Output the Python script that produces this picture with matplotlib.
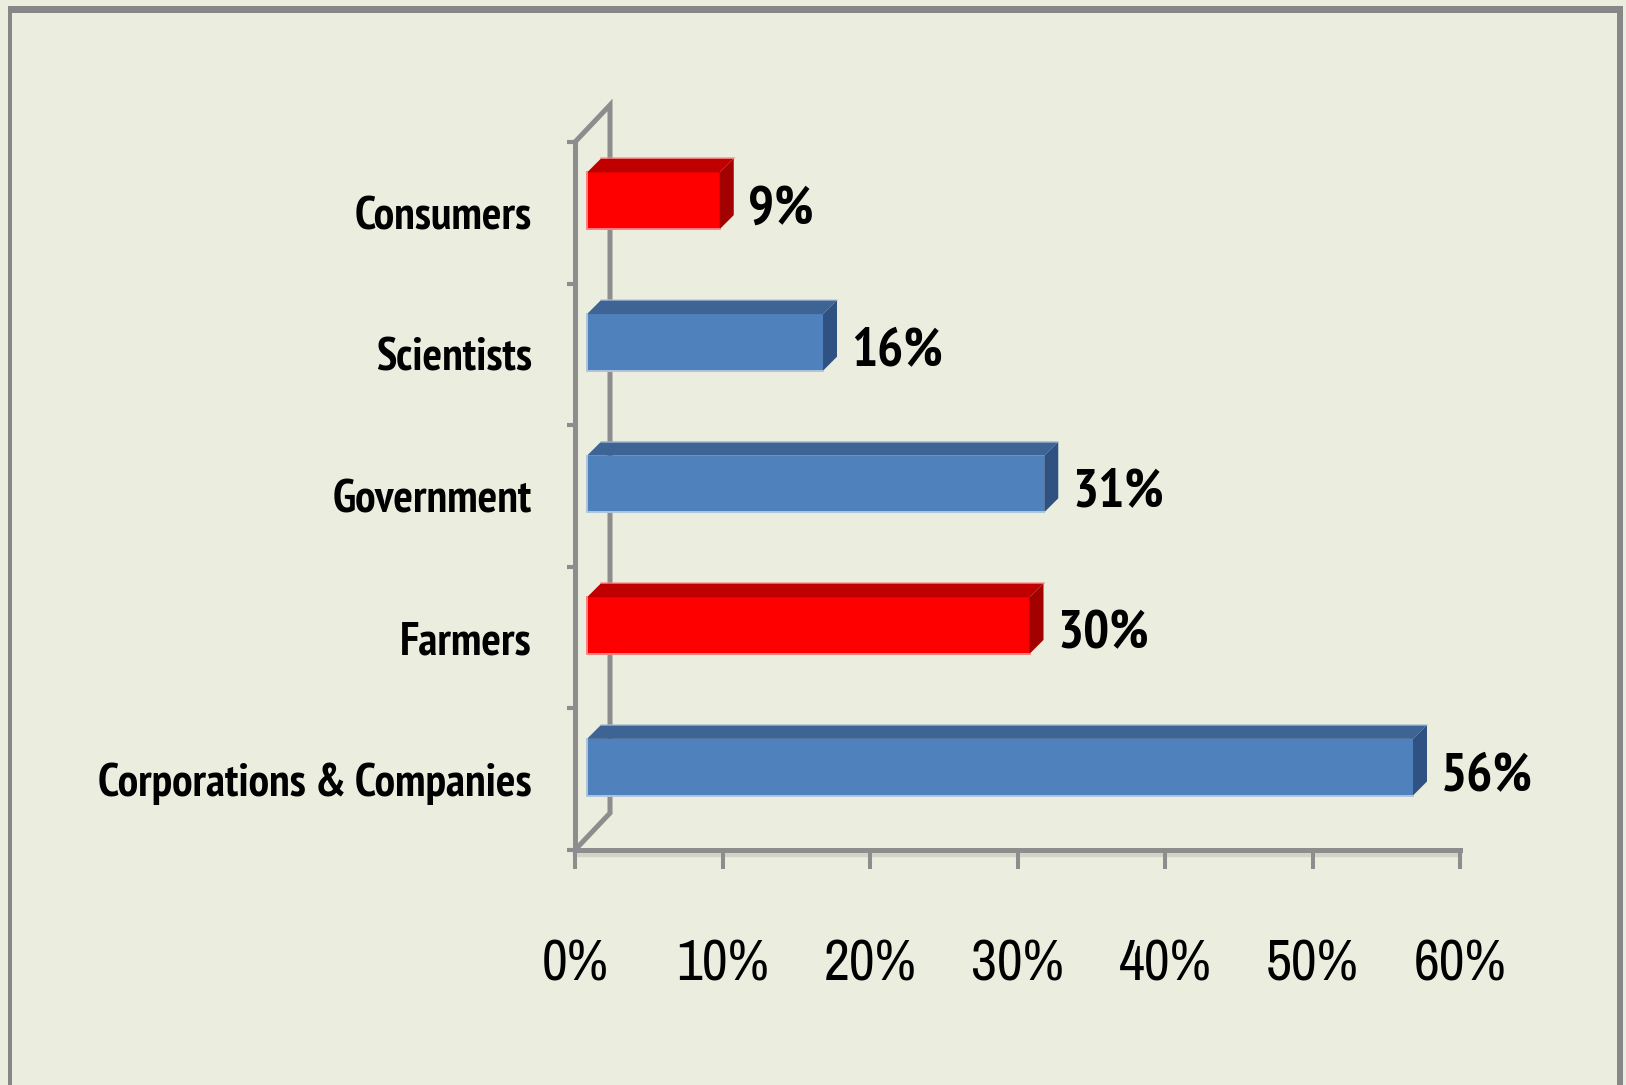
import os
import matplotlib
matplotlib.use("Agg")
import matplotlib.pyplot as plt
from matplotlib import font_manager
from matplotlib.font_manager import FontProperties
from matplotlib.patches import Polygon, Rectangle
from matplotlib.ticker import FixedLocator

# --- data -------------------------------------------------------------
categories = ["Corporations & Companies", "Farmers", "Government", "Scientists", "Consumers"]
values = [56, 30, 31, 16, 9]
highlight = [False, True, False, False, True]
x_ticks = [0, 10, 20, 30, 40, 50, 60]
x_tick_labels = [f"{t}%" for t in x_ticks]

# --- style ------------------------------------------------------------
BG = "#EBEEDF"
FRAME = "#878787"
AXIS = "#8D8D8D"
BLUE = ("#4F81BD", "#3D6495", "#2F5283")   # front, top, side
RED = ("#FF0000", "#C00000", "#A30000")
BLUE_EDGE = "#AFC3DB"
RED_EDGE = "#FF8080"

W, H, DPI = 1626, 1085, 100


def pick_font(bold):
    """Prefer a narrow sans face; fall back to Liberation Sans."""
    want = 700 if bold else 400
    for key in ("narrow", "condensed"):
        for f in font_manager.fontManager.ttflist:
            tag = (f.name + " " + os.path.basename(f.fname)).lower()
            if key not in tag or "mono" in tag or "serif" in tag.replace("sans", ""):
                continue
            w = f.weight if isinstance(f.weight, int) else (700 if f.weight == "bold" else 400)
            if abs(w - want) < 100 and f.style == "normal":
                return FontProperties(fname=f.fname)
    return FontProperties(family="Liberation Sans", weight="bold" if bold else "normal")


fig = plt.figure(figsize=(W / DPI, H / DPI), dpi=DPI, facecolor=BG)
renderer = fig.canvas.get_renderer()


def fit_size(text, prop, target_w, target_cap):
    """Font size (pt) balancing a target text width and cap height in pixels."""
    p = prop.copy()
    p.set_size(100)
    w, _, _ = renderer.get_text_width_height_descent(text, p, ismath=False)
    size_w = 100 * target_w / w
    size_h = target_cap / (0.72 * DPI / 72)
    return size_w ** 0.6 * size_h ** 0.4


REG = pick_font(False)
BOLD = pick_font(True)

tick_prop = REG.copy()
tick_prop.set_size(fit_size("10%", REG, 87, 45))
cat_prop = BOLD.copy()
cat_prop.set_size(fit_size("Corporations & Companies", BOLD, 444, 32))
val_prop = BOLD.copy()
val_prop.set_size(fit_size("56%", BOLD, 88, 42))

# outer frame (top, left, right)
for (x0, y0, x1, y1) in [(8, 6, 1623, 13), (8, 6, 12, 1085), (1617, 6, 1623, 1085)]:
    fig.patches.append(Rectangle((x0 / W, 1 - y1 / H), (x1 - x0) / W, (y1 - y0) / H,
                                 transform=fig.transFigure, facecolor=FRAME,
                                 edgecolor="none", zorder=0))

ax = fig.add_axes([575 / W, (H - 850) / H, 885 / W, 708 / H])
ax.set_xlim(0, 60)
ax.set_ylim(-0.5, len(categories) - 0.5)
ax.patch.set_visible(False)

# pixel -> data conversion for the pseudo-3D depth
sx = 885 / 60
sy = 708 / len(categories)


def off(dx_px, dy_px):
    return dx_px / sx, dy_px / sy


LW = 3.6  # points

# back wall outline
wx, wy = off(35, 37)
ylo, yhi = -0.5, len(categories) - 0.5
ax.plot([0, wx, wx, 0], [ylo, ylo + wy, yhi + wy, yhi], color=AXIS, lw=LW,
        clip_on=False, zorder=1, solid_joinstyle="miter")

# axis shadow under the category floor
ax.plot([0, 60], [ylo - 5 / sy] * 2, color="#D2D4C8", lw=3.2, clip_on=False, zorder=1)

for side in ("top", "right"):
    ax.spines[side].set_visible(False)
for side in ("left", "bottom"):
    ax.spines[side].set_color(AXIS)
    ax.spines[side].set_linewidth(LW)
    ax.spines[side].set_zorder(2)

ax.xaxis.set_major_locator(FixedLocator(x_ticks))
ax.set_xticklabels(x_tick_labels, fontproperties=tick_prop)
ax.tick_params(axis="x", direction="out", length=14, width=2.9, color=AXIS, pad=50)

ax.set_yticks(range(len(categories)))
ax.set_yticklabels(categories, fontproperties=cat_prop)
ax.yaxis.set_minor_locator(FixedLocator([k - 0.5 for k in range(len(categories) + 1)]))
ax.tick_params(axis="y", which="major", length=0, pad=31)
ax.tick_params(axis="y", which="minor", direction="out", length=6, width=3, color=AXIS)

# bars with pseudo-3D top and side faces
bar_h = 0.4
fx, fy = off(12, 12)
dx, dy = off(14, 14)
for i, (v, hl) in enumerate(zip(values, highlight)):
    front, top, side = RED if hl else BLUE
    edge = RED_EDGE if hl else BLUE_EDGE
    yc = i + fy
    y0, y1 = yc - bar_h / 2, yc + bar_h / 2
    ax.barh(yc, v, height=bar_h, left=fx, color=front, edgecolor="none",
            zorder=3, clip_on=False)
    ax.add_patch(Polygon([(fx, y1), (fx + v, y1), (fx + v + dx, y1 + dy), (fx + dx, y1 + dy)],
                         closed=True, facecolor=top, edgecolor="none", zorder=3, clip_on=False))
    ax.add_patch(Polygon([(fx + v, y0), (fx + v + dx, y0 + dy), (fx + v + dx, y1 + dy), (fx + v, y1)],
                         closed=True, facecolor=side, edgecolor="none", zorder=3, clip_on=False))
    # soft highlight along the lower and left front edges and top rim
    ax.plot([fx, fx, fx + v], [y1, y0, y0], color=edge, lw=1.4, zorder=4, clip_on=False)
    ax.plot([fx + dx, fx + v + dx], [y1 + dy, y1 + dy], color=edge, lw=1.2, alpha=0.7,
            zorder=4, clip_on=False)
    ax.annotate(f"{v}%", xy=(v, i), xytext=(40 * 0.72, 3 * 0.72), textcoords="offset points",
                ha="left", va="center", fontproperties=val_prop, color="black", zorder=5)

fig.savefig("out.png", dpi=DPI, facecolor=BG)
